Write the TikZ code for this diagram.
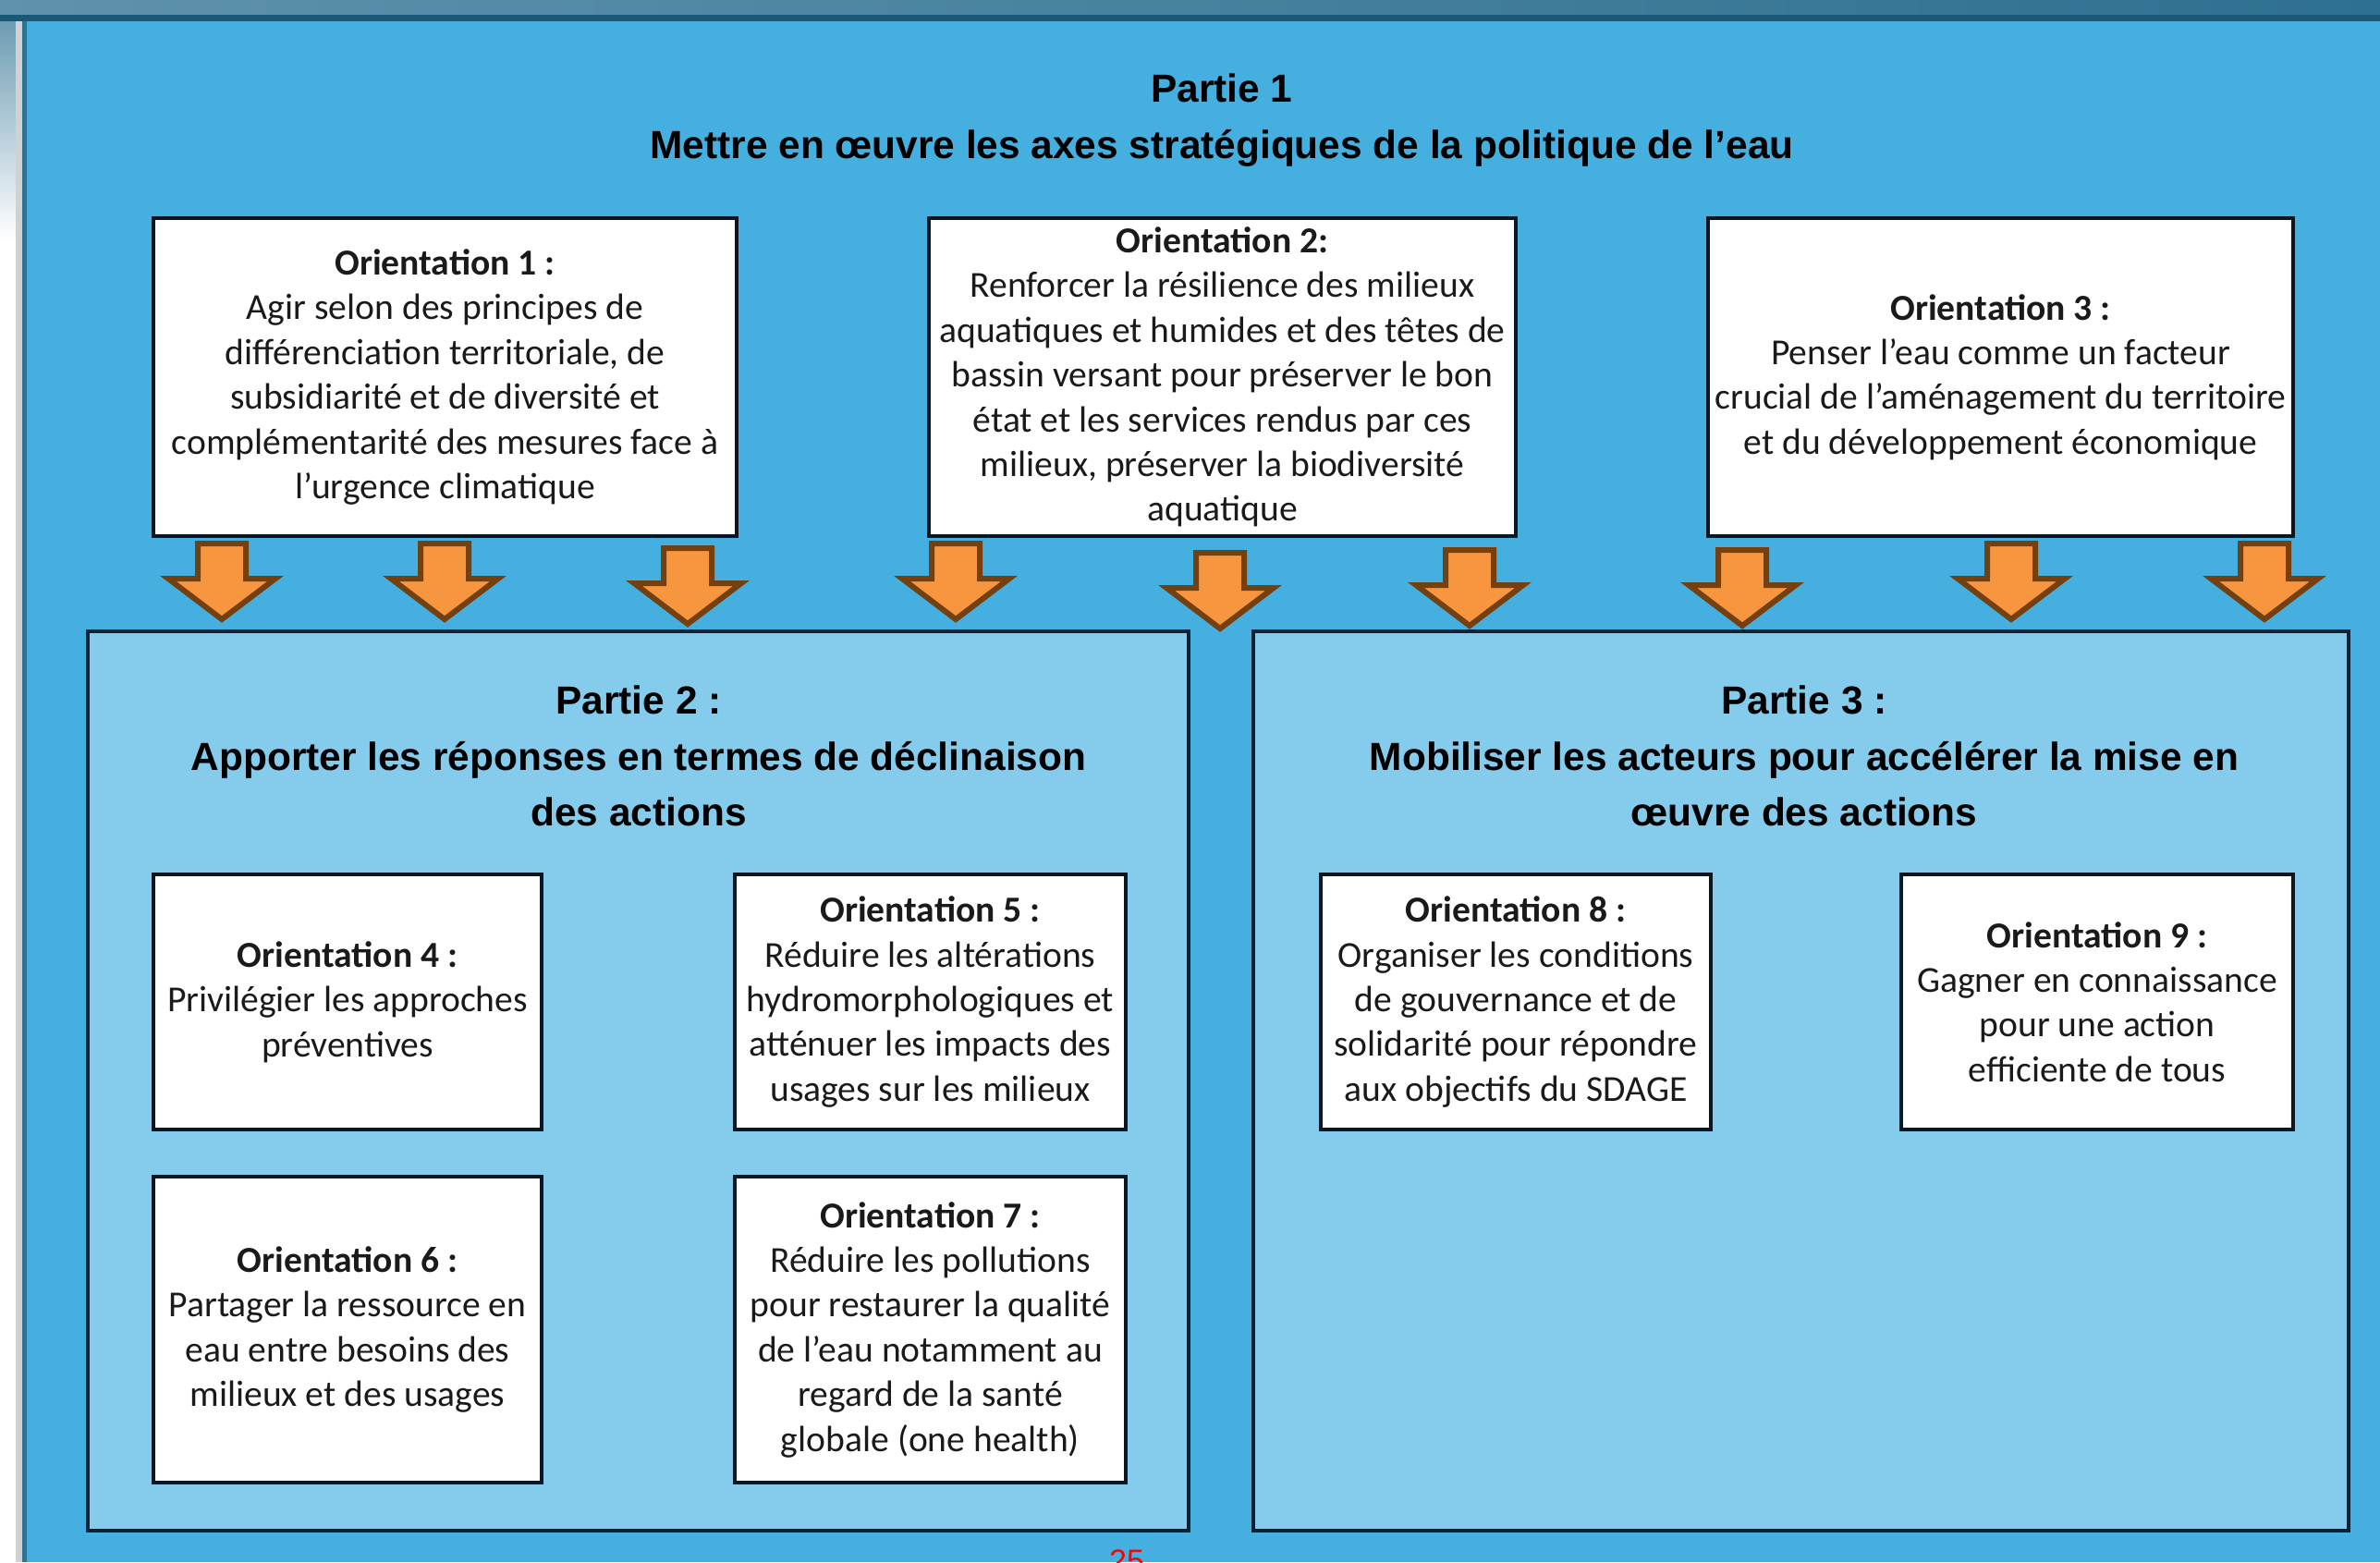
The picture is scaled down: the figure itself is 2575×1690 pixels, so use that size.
\documentclass[tikz,border=0pt]{standalone}
\usepackage{fontspec}
\setmainfont{Carlito}
\newfontfamily\titlefont{Liberation Sans}
\definecolor{bgblue}{HTML}{45B0E0}
\definecolor{panelblue}{HTML}{84CBEC}
\definecolor{bandA}{HTML}{5F92AC}
\definecolor{bandB}{HTML}{2E7090}
\definecolor{bandline}{HTML}{1B5878}
\definecolor{edgeline}{HTML}{2C7396}
\definecolor{boxline}{HTML}{0B1620}
\definecolor{panelline}{HTML}{0A2236}
\definecolor{arrowfill}{HTML}{F7963F}
\definecolor{arrowline}{HTML}{74400F}
\definecolor{txt}{HTML}{1A1A1A}
\begin{document}
\begin{tikzpicture}[x=0.25pt,y=-0.25pt,
  obox/.style={draw=boxline, line width=1.2pt, fill=white, inner sep=0pt, align=center,
    font=\fontsize{9.9pt}{12.1pt}\selectfont, text=txt},
  panel/.style={draw=panelline, line width=1.2pt, fill=panelblue, inner sep=0pt},
  ptitle/.style={inner sep=0pt, align=center, font=\titlefont\bfseries\fontsize{10.6pt}{15.2pt}\selectfont, text=black},
  arrowstyle/.style={fill=arrowfill, draw=arrowline, line width=1.5pt, line join=miter},
  dnarrow/.pic={\draw[arrowstyle] (-26,0) -- (26,0) -- (26,38) -- (58,38) -- (0,82) -- (-58,38) -- (-26,38) -- cycle;}
]
\useasboundingbox (0,0) rectangle (2575,1690);
% page background
\fill[white] (0,0) rectangle (2575,1690);
\shade[top color=bandA, bottom color=white] (0,0) rectangle (17,260);
\fill[black!18] (17,0) rectangle (25,1690);
\shade[left color=bandA, right color=bandB] (0,0) rectangle (2575,16);
\fill[bandline] (0,16) rectangle (2575,23);
\fill[bgblue] (25,23) rectangle (2575,1690);
\fill[edgeline] (24,23) rectangle (29,1690);

% part 1 title
\node[ptitle] (t1) at (1322,130) {Partie 1\\Mettre en œuvre les axes stratégiques de la politique de l’eau};

% orientation boxes, part 1
\node[obox, minimum width=157.75pt, minimum height=86pt] (o1) at (481.5,408)
 {\textbf{Orientation 1 :}\\Agir selon des principes de\\différenciation territoriale, de\\subsidiarité et de diversité et\\complémentarité des mesures face à\\l’urgence climatique};
\node[obox, minimum width=158.75pt, minimum height=86pt] (o2) at (1322.5,408)
 {\textbf{Orientation 2:}\\Renforcer la résilience des milieux\\aquatiques et humides et des têtes de\\bassin versant pour préserver le bon\\état et les services rendus par ces\\milieux, préserver la biodiversité\\aquatique};
\node[obox, minimum width=158.25pt, minimum height=86pt] (o3) at (2164.5,408)
 {\textbf{Orientation 3 :}\\Penser l’eau comme un facteur\\crucial de l’aménagement du territoire\\et du développement économique};

% panels
\node[panel, minimum width=297.75pt, minimum height=243.25pt] (p2) at (690.5,1169.5) {};
\node[panel, minimum width=296.25pt, minimum height=243.25pt] (p3) at (1948.5,1169.5) {};

% arrows
\pic (a1) at (240,588) {dnarrow};
\pic (a2) at (481,588) {dnarrow};
\pic (a3) at (744,593) {dnarrow};
\pic (a4) at (1034,588) {dnarrow};
\pic (a5) at (1320,598) {dnarrow};
\pic (a6) at (1590,595) {dnarrow};
\pic (a7) at (1885,595) {dnarrow};
\pic (a8) at (2176,588) {dnarrow};
\pic (a9) at (2450,588) {dnarrow};

% panel titles
\node[ptitle] (t2) at (691,818) {Partie 2 :\\Apporter les réponses en termes de déclinaison\\des actions};
\node[ptitle] (t3) at (1952,818) {Partie 3 :\\Mobiliser les acteurs pour accélérer la mise en\\œuvre des actions};

% part 2 boxes
\node[obox, minimum width=105pt, minimum height=69pt] (o4) at (376,1084)
 {\textbf{Orientation 4 :}\\Privilégier les approches\\préventives};
\node[obox, minimum width=105.75pt, minimum height=69pt] (o5) at (1006.5,1084)
 {\textbf{Orientation 5 :}\\Réduire les altérations\\hydromorphologiques et\\atténuer les impacts des\\usages sur les milieux};
\node[obox, minimum width=105pt, minimum height=82.75pt] (o6) at (376,1438.5)
 {\textbf{Orientation 6 :}\\Partager la ressource en\\eau entre besoins des\\milieux et des usages};
\node[obox, minimum width=105.75pt, minimum height=82.75pt] (o7) at (1006.5,1438.5)
 {\textbf{Orientation 7 :}\\Réduire les pollutions\\pour restaurer la qualité\\de l’eau notamment au\\regard de la santé\\globale (one health)};

% part 3 boxes
\node[obox, minimum width=105.5pt, minimum height=69pt] (o8) at (1640,1084)
 {\textbf{Orientation 8 :}\\Organiser les conditions\\de gouvernance et de\\solidarité pour répondre\\aux objectifs du SDAGE};
\node[obox, minimum width=106pt, minimum height=69pt] (o9) at (2269,1084)
 {\textbf{Orientation 9 :}\\Gagner en connaissance\\pour une action\\efficiente de tous};

% page number
\node[inner sep=0pt, anchor=north, text=red, font=\titlefont\fontsize{8.5pt}{10pt}\selectfont] (pnum) at (1219,1676) {25};
\end{tikzpicture}
\end{document}
